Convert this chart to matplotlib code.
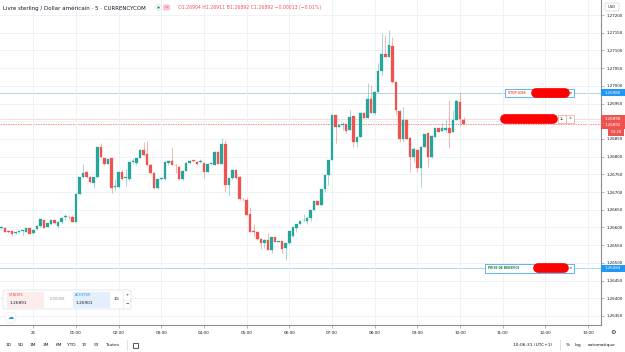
import numpy as np
import matplotlib.pyplot as plt
from matplotlib.patches import Rectangle, FancyBboxPatch, Circle
from matplotlib.transforms import blended_transform_factory

# GBP/USD 5 min candles, from 23:15 (day 20) to 10:05 (day 21)
opens = [1.26597, 1.26599, 1.26590, 1.26590, 1.26583, 1.26586, 1.26590, 1.26588, 1.26598, 1.26583,
         1.26595, 1.26604, 1.26621, 1.26602, 1.26610, 1.26621, 1.26605, 1.26614, 1.26629, 1.26629,
         1.26628, 1.26616, 1.26694, 1.26741, 1.26756, 1.26743, 1.26726, 1.26743, 1.26826, 1.26795,
         1.26779, 1.26795, 1.26715, 1.26713, 1.26756, 1.26740, 1.26737, 1.26785, 1.26781, 1.26795,
         1.26819, 1.26807, 1.26776, 1.26755, 1.26711, 1.26737, 1.26737, 1.26782, 1.26788, 1.26776,
         1.26772, 1.26737, 1.26760, 1.26781, 1.26788, 1.26786, 1.26785, 1.26781, 1.26757, 1.26780,
         1.26776, 1.26814, 1.26779, 1.26835, 1.26720, 1.26739, 1.26762, 1.26743, 1.26680, 1.26677,
         1.26637, 1.26590, 1.26587, 1.26567, 1.26557, 1.26564, 1.26536, 1.26572, 1.26560, 1.26562,
         1.26541, 1.26555, 1.26576, 1.26598, 1.26610, 1.26620, 1.26618, 1.26627, 1.26649, 1.26675,
         1.26663, 1.26708, 1.26748, 1.26790, 1.26917, 1.26884, 1.26889, 1.26892, 1.26875, 1.26915,
         1.26842, 1.26856, 1.26924, 1.26910, 1.26963, 1.26924, 1.26983, 1.27043, 1.27089, 1.27082,
         1.27113, 1.27010, 1.26930, 1.26850, 1.26903, 1.26853, 1.26798, 1.26819, 1.26767, 1.26828,
         1.26866, 1.26798, 1.26856, 1.26880, 1.26873, 1.26875, 1.26880, 1.26870, 1.26903, 1.26955,
         1.26904]
highs = [1.26603, 1.26601, 1.26593, 1.26591, 1.26590, 1.26593, 1.26594, 1.26598, 1.26598, 1.26594,
         1.26607, 1.26627, 1.26622, 1.26612, 1.26622, 1.26622, 1.26618, 1.26629, 1.26637, 1.26635,
         1.26634, 1.26696, 1.26742, 1.26778, 1.26759, 1.26745, 1.26742, 1.26827, 1.26838, 1.26796,
         1.26795, 1.26796, 1.26737, 1.26757, 1.26764, 1.26764, 1.26788, 1.26796, 1.26796, 1.26822,
         1.26842, 1.26844, 1.26778, 1.26757, 1.26738, 1.26740, 1.26788, 1.26790, 1.26828, 1.26779,
         1.26773, 1.26762, 1.26785, 1.26790, 1.26790, 1.26788, 1.26793, 1.26782, 1.26781, 1.26785,
         1.26816, 1.26816, 1.26852, 1.26847, 1.26740, 1.26764, 1.26764, 1.26745, 1.26683, 1.26682,
         1.26659, 1.26610, 1.26588, 1.26569, 1.26566, 1.26583, 1.26573, 1.26573, 1.26562, 1.26563,
         1.26556, 1.26591, 1.26601, 1.26611, 1.26619, 1.26638, 1.26628, 1.26650, 1.26675, 1.26675,
         1.26709, 1.26749, 1.26791, 1.26918, 1.26918, 1.26890, 1.26899, 1.26893, 1.26932, 1.26916,
         1.26857, 1.26925, 1.26925, 1.27007, 1.27002, 1.26985, 1.27064, 1.27148, 1.27144, 1.27158,
         1.27139, 1.27011, 1.26931, 1.26941, 1.26904, 1.26855, 1.26828, 1.26820, 1.26829, 1.26865,
         1.26867, 1.26860, 1.26881, 1.26881, 1.26894, 1.26903, 1.26960, 1.26932, 1.26960, 1.26983,
         1.26911]
lows = [1.26594, 1.26586, 1.26583, 1.26577, 1.26580, 1.26584, 1.26579, 1.26587, 1.26580, 1.26581,
        1.26593, 1.26601, 1.26598, 1.26600, 1.26608, 1.26610, 1.26597, 1.26612, 1.26621, 1.26624,
        1.26615, 1.26615, 1.26693, 1.26739, 1.26739, 1.26725, 1.26710, 1.26742, 1.26796, 1.26776,
        1.26778, 1.26696, 1.26706, 1.26711, 1.26735, 1.26717, 1.26735, 1.26781, 1.26776, 1.26795,
        1.26803, 1.26775, 1.26754, 1.26709, 1.26709, 1.26735, 1.26735, 1.26776, 1.26775, 1.26755,
        1.26735, 1.26735, 1.26758, 1.26779, 1.26785, 1.26776, 1.26782, 1.26740, 1.26757, 1.26779,
        1.26775, 1.26778, 1.26778, 1.26701, 1.26692, 1.26738, 1.26738, 1.26678, 1.26676, 1.26634,
        1.26587, 1.26574, 1.26564, 1.26538, 1.26541, 1.26535, 1.26527, 1.26559, 1.26558, 1.26527,
        1.26508, 1.26554, 1.26574, 1.26588, 1.26609, 1.26619, 1.26609, 1.26618, 1.26648, 1.26662,
        1.26662, 1.26701, 1.26720, 1.26790, 1.26838, 1.26884, 1.26875, 1.26866, 1.26874, 1.26828,
        1.26828, 1.26855, 1.26909, 1.26909, 1.26923, 1.26920, 1.26983, 1.27028, 1.27081, 1.27081,
        1.27009, 1.26918, 1.26842, 1.26842, 1.26849, 1.26757, 1.26786, 1.26757, 1.26715, 1.26827,
        1.26772, 1.26797, 1.26855, 1.26870, 1.26872, 1.26870, 1.26825, 1.26870, 1.26903, 1.26887,
        1.26892]
closes = [1.26600, 1.26588, 1.26586, 1.26581, 1.26587, 1.26590, 1.26591, 1.26598, 1.26581, 1.26593,
          1.26605, 1.26624, 1.26599, 1.26612, 1.26621, 1.26612, 1.26616, 1.26627, 1.26630, 1.26628,
          1.26616, 1.26694, 1.26741, 1.26754, 1.26741, 1.26727, 1.26741, 1.26826, 1.26798, 1.26778,
          1.26793, 1.26711, 1.26716, 1.26756, 1.26737, 1.26741, 1.26785, 1.26786, 1.26795, 1.26819,
          1.26805, 1.26776, 1.26755, 1.26711, 1.26737, 1.26738, 1.26786, 1.26788, 1.26776, 1.26775,
          1.26737, 1.26760, 1.26783, 1.26788, 1.26787, 1.26778, 1.26786, 1.26757, 1.26779, 1.26781,
          1.26814, 1.26779, 1.26836, 1.26720, 1.26739, 1.26762, 1.26739, 1.26679, 1.26679, 1.26635,
          1.26588, 1.26586, 1.26567, 1.26557, 1.26564, 1.26536, 1.26572, 1.26560, 1.26561, 1.26539,
          1.26555, 1.26590, 1.26600, 1.26610, 1.26618, 1.26621, 1.26627, 1.26649, 1.26675, 1.26663,
          1.26708, 1.26748, 1.26790, 1.26917, 1.26884, 1.26889, 1.26892, 1.26873, 1.26913, 1.26842,
          1.26856, 1.26924, 1.26910, 1.26963, 1.26924, 1.26983, 1.27043, 1.27090, 1.27082, 1.27115,
          1.27010, 1.26932, 1.26850, 1.26903, 1.26850, 1.26798, 1.26821, 1.26767, 1.26828, 1.26864,
          1.26798, 1.26859, 1.26880, 1.26870, 1.26880, 1.26880, 1.26866, 1.26903, 1.26957, 1.26906,
          1.26892]

hour_ticks = list(range(14))
hour_labels = ["21"] + [f"{h:02d}:00" for h in range(1, 14)]
price_ticks = [1.2635, 1.2640, 1.2645, 1.2650, 1.2655, 1.2660, 1.2665, 1.2670, 1.2675,
               1.2680, 1.2685, 1.2690, 1.2695, 1.2700, 1.2705, 1.2710, 1.2715, 1.2720]

stop_loss = 1.26980
take_profit = 1.26484
position = 1.26898
ask = 1.26906
last = 1.26892

UP = "#26a69a"
DOWN = "#ef5350"
BLUE = "#2196f3"
TXT = "#131722"

W, H = 625, 352
fig = plt.figure(figsize=(6.25, 3.52), dpi=100)
ax = fig.add_axes([0, 1 - 325 / H, 601 / W, 325 / H])

opens, highs, lows, closes = map(np.array, (opens, highs, lows, closes))
t = -0.75 + np.arange(len(opens)) / 12  # hours after midnight
cols = np.where(closes >= opens, UP, DOWN)
body = np.maximum(np.abs(closes - opens), 0.00002)

ax.vlines(t, lows, highs, colors=cols, linewidth=0.6, alpha=0.5, zorder=2)
ax.bar(t, body, bottom=np.minimum(opens, closes), width=0.06, color=cols,
       edgecolor=cols, linewidth=0.2, zorder=3)

ax.set_xlim(-0.78, 13.305)
ax.set_ylim(1.263243, 1.272424)
ax.set_xticks(hour_ticks)
ax.set_xticklabels(hour_labels)
ax.yaxis.tick_right()
ax.set_yticks(price_ticks)
ax.set_yticklabels([f"{p:.5f}" for p in price_ticks])
ax.grid(True, color="#edf0f5", linewidth=0.6, zorder=0)
ax.tick_params(axis="x", length=2, width=0.5, color="#9598a1", labelsize=3.0, pad=2.5, labelcolor=TXT)
ax.tick_params(axis="y", length=2, width=0.5, color="#9598a1", labelsize=2.9, pad=2, labelcolor=TXT)
for s in ("top", "left"):
    ax.spines[s].set_visible(False)
for s in ("right", "bottom"):
    ax.spines[s].set_color("#8a8d96")
    ax.spines[s].set_linewidth(0.8)

# horizontal price lines
ax.axhline(stop_loss, color=BLUE, lw=0.6, alpha=0.45, zorder=1)
ax.axhline(take_profit, color=BLUE, lw=0.6, alpha=0.45, zorder=1)
ax.axhline(ask, color=DOWN, lw=0.5, alpha=0.3, zorder=1)
ax.axhline(last, color=DOWN, lw=0.6, alpha=0.7, ls=(0, (2, 1)), zorder=1)

bl = blended_transform_factory(ax.transAxes, ax.transData)
px = 0.0005 / 17.7  # price per pixel
fx = 1 / 601.0       # axes fraction per pixel


def axis_box(price, text, fc, x0=601, x1=625):
    ax.add_patch(Rectangle((x0 * fx, price - 3.6 * px), (x1 - x0) * fx, 7.2 * px, transform=bl,
                           fc=fc, ec="none", clip_on=False, zorder=10))
    ax.text((x0 + x1) / 2 * fx, price, text, transform=bl, ha="center", va="center",
            fontsize=2.9, color="white", clip_on=False, zorder=11)


axis_box(stop_loss, f"{stop_loss:.5f}", BLUE)
axis_box(take_profit, f"{take_profit:.5f}", BLUE)
axis_box(last + 5.5 * px, f"{position:.5f}", DOWN)
axis_box(last - 1 * px, f"{last:.5f}", DOWN)
axis_box(last - 8 * px, "03:28", DOWN, 608, 624)


def order_label(price, x0, x1, text, tcol, rx0, rx1, ecol):
    ax.add_patch(Rectangle((x0 * fx, price - 4.2 * px), (x1 - x0) * fx, 8.4 * px, transform=bl,
                           fc="white", ec=ecol, lw=0.5, zorder=12))
    if text:
        ax.text((x0 + 2.5) * fx, price, text, transform=bl, ha="left", va="center",
                fontsize=2.1, color=tcol, fontweight="bold", zorder=13)
    ax.plot([rx0 * fx, rx1 * fx], [price, price], transform=bl, color="#ff0000",
            lw=7, solid_capstyle="round", zorder=14)


order_label(stop_loss, 505, 574, "STOP LOSS", DOWN, 536, 565, BLUE)
ax.text(570.5 * fx, stop_loss, "×", transform=bl, ha="center", va="center", fontsize=3, color=TXT, zorder=15)
order_label(take_profit, 485, 574, "PRISE DE BENEFICE", "#1b7f3b", 538, 564, BLUE)
ax.text(570.5 * fx, take_profit, "×", transform=bl, ha="center", va="center", fontsize=3, color=TXT, zorder=15)
pos_y = last + 5.5 * px
ax.plot([505 * fx, 553 * fx], [pos_y, pos_y], transform=bl, color="#ff0000", lw=7,
        solid_capstyle="round", zorder=14)
for xa, lab in ((558, "1L"), (566, "×")):
    ax.add_patch(Rectangle((xa * fx, pos_y - 4 * px), 8 * fx, 8 * px, transform=bl,
                           fc="white", ec="#f5a3a3", lw=0.5, zorder=12))
    ax.text((xa + 4) * fx, pos_y, lab, transform=bl, ha="center", va="center",
            fontsize=2.6, color=TXT, zorder=13)

# overlay in pixel coordinates for the interface chrome
ov = fig.add_axes([0, 0, 1, 1])
ov.set_xlim(0, W)
ov.set_ylim(H, 0)
ov.axis("off")
ov.set_zorder(5)

ov.text(3, 8, "Livre sterling / Dollar américain · 5 · CURRENCYCOM", fontsize=3.95,
        color=TXT, va="center")
ov.add_patch(Circle((158.5, 7.5), 3, fc="white", ec="#d6d9de", lw=0.4))
ov.add_patch(Circle((158.5, 7.5), 1.3, fc=UP, ec="none"))
ov.add_patch(FancyBboxPatch((163, 4.5), 7, 6, boxstyle="round,pad=0,rounding_size=1.5",
                            fc="#f8c7d3", ec="none"))
ov.text(166.5, 7.5, "=", fontsize=3.2, color="#e91e63", ha="center", va="center")
ov.text(178, 8, "O1.26904 H1.26911 B1.26892 C1.26892 −0.00013 (−0.01%)", fontsize=3.3,
        color=DOWN, va="center")

ov.add_patch(FancyBboxPatch((605, 3), 14, 8, boxstyle="round,pad=0,rounding_size=1.5",
                            fc="white", ec="#d1d4dc", lw=0.5))
ov.text(612, 7, "USD", fontsize=2.7, color=TXT, ha="center", va="center")

# buy / sell widget
ov.add_patch(FancyBboxPatch((3, 290), 128, 19, boxstyle="round,pad=0,rounding_size=1.5",
                            fc="white", ec="#d1d4dc", lw=0.4))
ov.add_patch(Rectangle((7, 291.5), 37, 16, fc="#fdecec", ec="none"))
ov.add_patch(Rectangle((73, 291.5), 37, 16, fc="#e3effd", ec="none"))
ov.text(5, 299.5, "⋮", fontsize=3, color="#b2b5be", ha="center", va="center")
ov.text(9, 295.5, "VENDRE", fontsize=2.5, color=DOWN, va="center")
ov.text(9, 302.5, "1.26891", fontsize=3.1, color=TXT, va="center")
ov.text(58, 299.5, "0.00008", fontsize=2.7, color="#9598a1", ha="center", va="center")
ov.text(75, 295.5, "ACHETER", fontsize=2.5, color=BLUE, va="center")
ov.text(75, 302.5, "1.26901", fontsize=3.1, color=TXT, va="center")
ov.text(116, 299.5, "1G", fontsize=3, color=TXT, ha="center", va="center")
ov.text(127.5, 295, "+", fontsize=3, color=TXT, ha="center", va="center")
ov.text(127.5, 304, "−", fontsize=3, color=TXT, ha="center", va="center")
ov.plot([123, 123], [291, 308], color="#e0e3eb", lw=0.4)
ov.plot([123, 131], [299.5, 299.5], color="#e0e3eb", lw=0.4)

ov.add_patch(Circle((10.5, 317.5), 5.5, fc="white", ec="#e0e3eb", lw=0.4))
ov.text(10.5, 317.5, "☁", fontsize=4.5, color=BLUE, ha="center", va="center")

# bottom toolbar
for xc, lab in zip([9, 21, 33, 46, 59, 71, 84, 96, 112],
                   ["1D", "5D", "1M", "3M", "6M", "YTD", "1Y", "5Y", "Toutes"]):
    ov.text(xc, 345, lab, fontsize=3.2, color=TXT, ha="center", va="center")
ov.plot([127, 127], [340, 350], color="#d1d4dc", lw=0.5)
ov.add_patch(Rectangle((133, 342.5), 5, 5, fc="none", ec=TXT, lw=0.5))
ov.text(533, 345, "10:06:31 (UTC+1)", fontsize=3.2, color=TXT, ha="center", va="center")
ov.plot([560, 560], [340, 350], color="#d1d4dc", lw=0.5)
ov.text(568, 345, "%", fontsize=3.2, color=TXT, ha="center", va="center")
ov.text(578, 345, "log", fontsize=3.2, color=TXT, ha="center", va="center")
ov.text(602, 345, "automatique", fontsize=3.2, color=TXT, ha="center", va="center")
ov.text(613, 332, "⚙", fontsize=4.5, color=TXT, ha="center", va="center")

fig.savefig("out.png", dpi=100, facecolor="white")
